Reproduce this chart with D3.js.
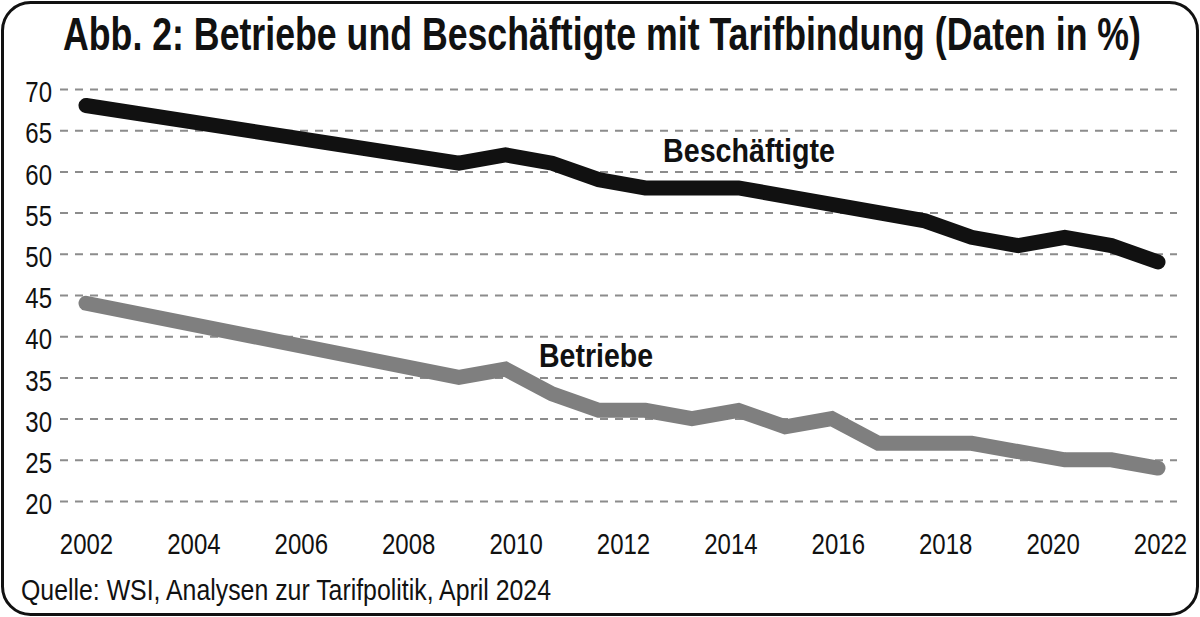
<!DOCTYPE html>
<html>
<head>
<meta charset="utf-8">
<script src="https://cdn.jsdelivr.net/npm/d3@7"></script>
<style>
  html, body { margin: 0; padding: 0; background: #fff; }
  svg text { font-family: "Liberation Sans", Arial, sans-serif; }
</style>
</head>
<body>
<div id="chart"></div>
<script>
// data (index = position of a vertex along the x axis)
const yearTicks = [2002, 2004, 2006, 2008, 2010, 2012, 2014, 2016, 2018, 2020, 2022];
const yTicks = [20, 25, 30, 35, 40, 45, 50, 55, 60, 65, 70];

const beschIdx = [0, 8, 9, 10, 11, 12, 14, 18, 19, 20, 21, 22, 23];
const beschVal = [68, 61, 62, 61, 59, 58, 58, 54, 52, 51, 52, 51, 49];

const betrIdx = [0, 8, 9, 10, 11, 12, 13, 14, 15, 16, 17, 19, 21, 22, 23];
const betrVal = [44, 35, 36, 33, 31, 31, 30, 31, 29, 30, 27, 27, 25, 25, 24];

const W = 1200, H = 617;
const narrow = "scale(0.8,1)"; // fake a condensed face

const svg = d3.select("#chart").append("svg")
    .attr("width", W)
    .attr("height", H);

// frame
svg.append("rect")
    .attr("x", 2.5).attr("y", 2.5)
    .attr("width", W - 5).attr("height", H - 5)
    .attr("rx", 28).attr("ry", 28)
    .attr("fill", "#fff")
    .attr("stroke", "#111")
    .attr("stroke-width", 3);

// title
svg.append("text")
    .attr("x", 602).attr("y", 50)
    .attr("text-anchor", "middle")
    .attr("font-size", 46)
    .attr("font-weight", "bold")
    .attr("fill", "#111")
    .attr("textLength", 1078)
    .attr("lengthAdjust", "spacingAndGlyphs")
    .text("Abb. 2: Betriebe und Beschäftigte mit Tarifbindung (Daten in %)");

const x = d3.scaleLinear().domain([0, 23]).range([86, 1158]);
const xYear = d3.scaleLinear().domain([2002, 2022]).range([86, 1160]);
const y = d3.scaleLinear().domain([20, 70]).range([501, 89]);

// y axis + dashed grid
const gridLeft = 60, gridRight = 1177;
const yAxis = svg.append("g")
    .attr("transform", `translate(${gridLeft},0)`)
    .call(d3.axisLeft(y).tickValues(yTicks).tickSize(-(gridRight - gridLeft)).tickPadding(0));
yAxis.select(".domain").remove();
yAxis.selectAll(".tick line")
    .attr("stroke", "#8c8c8c")
    .attr("stroke-width", 2)
    .attr("stroke-dasharray", "8,7");
yAxis.selectAll(".tick text")
    .attr("x", -10)
    .attr("font-size", 30)
    .attr("fill", "#111")
    .attr("dy", "0.42em")
    .attr("transform", narrow);

// x axis labels
const xAxis = svg.append("g")
    .attr("transform", "translate(0,524)")
    .call(d3.axisBottom(xYear).tickValues(yearTicks).tickFormat(d3.format("d")).tickSize(0).tickPadding(0));
xAxis.select(".domain").remove();
xAxis.selectAll(".tick text")
    .attr("font-size", 30)
    .attr("fill", "#111")
    .attr("dy", "1em")
    .attr("transform", narrow);

// lines
const line = d3.line()
    .x(d => x(d.i))
    .y(d => y(d.v));

const besch = beschIdx.map((i, k) => ({ i: i, v: beschVal[k] }));
const betr = betrIdx.map((i, k) => ({ i: i, v: betrVal[k] }));

svg.append("path")
    .datum(betr)
    .attr("d", line)
    .attr("fill", "none")
    .attr("stroke", "#7f7f7f")
    .attr("stroke-width", 15)
    .attr("stroke-linecap", "round");

svg.append("path")
    .datum(besch)
    .attr("d", line)
    .attr("fill", "none")
    .attr("stroke", "#111")
    .attr("stroke-width", 15)
    .attr("stroke-linecap", "round");

// series labels
svg.append("text")
    .attr("x", 663).attr("y", 162)
    .attr("font-size", 33)
    .attr("font-weight", "bold")
    .attr("fill", "#111")
    .attr("textLength", 172)
    .attr("lengthAdjust", "spacingAndGlyphs")
    .text("Beschäftigte");

svg.append("text")
    .attr("x", 539).attr("y", 367)
    .attr("font-size", 33)
    .attr("font-weight", "bold")
    .attr("fill", "#111")
    .attr("textLength", 114)
    .attr("lengthAdjust", "spacingAndGlyphs")
    .text("Betriebe");

// source
svg.append("text")
    .attr("x", 21).attr("y", 600)
    .attr("font-size", 30)
    .attr("fill", "#111")
    .attr("textLength", 530)
    .attr("lengthAdjust", "spacingAndGlyphs")
    .text("Quelle: WSI, Analysen zur Tarifpolitik, April 2024");
</script>
</body>
</html>
